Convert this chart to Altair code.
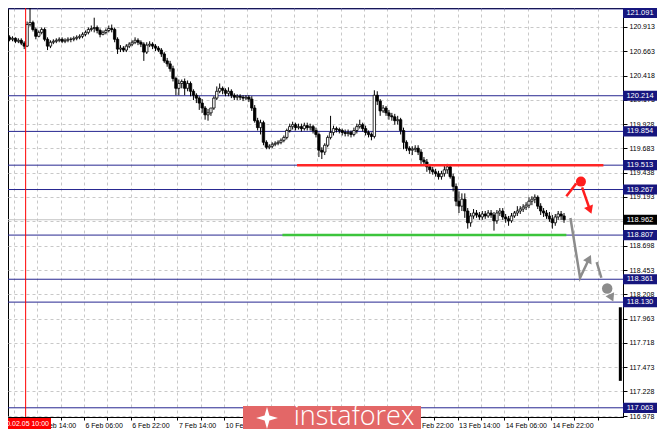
import json
import altair as alt
import pandas as pd

# ---------------- data (hourly bars) ----------------
first_open = 120.824
close = [
    120.804, 120.784, 120.794, 120.764, 120.774, 120.745, 120.715, 120.933,
    120.953, 120.883, 120.814, 120.854, 120.883, 120.784, 120.715, 120.754,
    120.764, 120.774, 120.784, 120.764, 120.774, 120.784, 120.784, 120.794,
    120.804, 120.814, 120.834, 120.854, 120.883, 120.893, 120.903, 120.873,
    120.834, 120.854, 120.873, 120.893, 120.883, 120.784, 120.685, 120.695,
    120.675, 120.715, 120.735, 120.754, 120.774, 120.754, 120.735, 120.655,
    120.725, 120.735, 120.715, 120.695, 120.675, 120.636, 120.566, 120.536,
    120.487, 120.388, 120.289, 120.338, 120.358, 120.289, 120.338, 120.259,
    120.219, 120.190, 120.140, 120.090, 120.021, 120.041, 120.090, 120.190,
    120.259, 120.289, 120.269, 120.239, 120.259, 120.219, 120.199, 120.209,
    120.199, 120.190, 120.199, 120.180, 120.090, 119.962, 119.892, 119.942,
    119.744, 119.694, 119.704, 119.724, 119.734, 119.744, 119.764, 119.793,
    119.863, 119.902, 119.922, 119.892, 119.902, 119.882, 119.912, 119.892,
    119.902, 119.863, 119.823, 119.664, 119.645, 119.714, 119.793, 119.843,
    119.882, 119.873, 119.863, 119.843, 119.833, 119.843, 119.823, 119.863,
    119.902, 119.922, 119.882, 119.843, 119.823, 119.803, 120.219, 120.160,
    120.061, 120.090, 120.041, 120.011, 120.001, 119.962, 119.972, 119.863,
    119.744, 119.684, 119.664, 119.674, 119.684, 119.645, 119.565, 119.545,
    119.496, 119.466, 119.446, 119.427, 119.397, 119.427, 119.466, 119.496,
    119.397, 119.298, 119.149, 119.099, 119.169, 119.050, 118.931, 119.000,
    119.030, 119.010, 118.990, 119.020, 119.000, 119.030, 119.010, 118.951,
    119.030, 119.050, 118.990, 118.971, 118.951, 119.000, 119.030, 119.050,
    119.070, 119.090, 119.109, 119.149, 119.169, 119.189, 119.099, 119.050,
    119.030, 119.000, 118.971, 118.931, 118.990, 119.020, 119.000, 118.962,
]
high = [
    120.844, 120.824, 120.814, 120.804, 120.794, 120.794, 120.764, 120.963,
    121.121, 120.972, 120.903, 120.873, 120.903, 120.903, 120.804, 120.774,
    120.784, 120.794, 120.804, 120.804, 120.794, 120.804, 120.804, 120.814,
    120.824, 120.834, 120.854, 120.873, 120.903, 120.923, 121.002, 120.923,
    120.893, 120.873, 120.893, 120.923, 120.933, 120.903, 120.804, 120.725,
    120.715, 120.735, 120.754, 120.774, 120.804, 120.794, 120.774, 120.754,
    120.754, 120.764, 120.754, 120.735, 120.715, 120.695, 120.655, 120.596,
    120.566, 120.517, 120.407, 120.378, 120.378, 120.388, 120.368, 120.358,
    120.279, 120.239, 120.209, 120.180, 120.110, 120.081, 120.090, 120.209,
    120.308, 120.338, 120.308, 120.289, 120.299, 120.279, 120.239, 120.229,
    120.229, 120.219, 120.219, 120.219, 120.209, 120.120, 119.991, 119.972,
    119.962, 119.764, 119.724, 119.744, 119.754, 119.764, 119.783, 119.813,
    119.882, 119.932, 119.952, 119.942, 119.932, 119.932, 119.942, 119.942,
    119.932, 119.922, 119.892, 119.843, 119.694, 119.734, 119.813, 120.011,
    119.912, 119.902, 119.892, 119.882, 119.873, 119.873, 119.863, 119.892,
    119.932, 119.972, 119.942, 119.912, 119.863, 119.843, 120.269, 120.259,
    120.180, 120.120, 120.110, 120.071, 120.041, 120.031, 120.011, 119.991,
    119.892, 119.764, 119.704, 119.704, 119.714, 119.714, 119.674, 119.595,
    119.575, 119.526, 119.496, 119.476, 119.456, 119.456, 119.506, 119.526,
    119.516, 119.427, 119.328, 119.248, 119.228, 119.228, 119.080, 119.030,
    119.070, 119.060, 119.040, 119.050, 119.050, 119.060, 119.060, 119.040,
    119.060, 119.080, 119.080, 119.020, 119.000, 119.030, 119.050, 119.099,
    119.099, 119.119, 119.139, 119.189, 119.199, 119.218, 119.208, 119.129,
    119.080, 119.060, 119.040, 119.010, 119.020, 119.050, 119.050, 119.030,
]
low = [
    120.784, 120.764, 120.764, 120.745, 120.745, 120.725, 120.685, 120.705,
    120.913, 120.863, 120.784, 120.804, 120.834, 120.764, 120.675, 120.695,
    120.735, 120.745, 120.754, 120.745, 120.745, 120.754, 120.754, 120.764,
    120.774, 120.784, 120.794, 120.814, 120.834, 120.863, 120.854, 120.844,
    120.804, 120.824, 120.834, 120.854, 120.854, 120.754, 120.636, 120.655,
    120.655, 120.655, 120.695, 120.715, 120.735, 120.725, 120.705, 120.566,
    120.636, 120.705, 120.685, 120.665, 120.655, 120.606, 120.546, 120.507,
    120.457, 120.358, 120.219, 120.219, 120.289, 120.219, 120.259, 120.209,
    120.170, 120.140, 120.071, 120.041, 119.972, 119.962, 120.011, 120.071,
    120.170, 120.239, 120.229, 120.209, 120.209, 120.190, 120.170, 120.170,
    120.170, 120.160, 120.170, 120.150, 120.061, 119.942, 119.863, 119.823,
    119.714, 119.674, 119.674, 119.684, 119.704, 119.714, 119.724, 119.744,
    119.773, 119.843, 119.873, 119.863, 119.873, 119.853, 119.863, 119.863,
    119.863, 119.833, 119.793, 119.595, 119.575, 119.615, 119.694, 119.773,
    119.813, 119.843, 119.833, 119.813, 119.803, 119.803, 119.793, 119.803,
    119.833, 119.882, 119.853, 119.813, 119.793, 119.764, 119.783, 120.120,
    120.011, 120.041, 120.011, 119.972, 119.962, 119.922, 119.922, 119.823,
    119.674, 119.655, 119.625, 119.615, 119.645, 119.615, 119.526, 119.516,
    119.446, 119.427, 119.417, 119.397, 119.367, 119.367, 119.397, 119.427,
    119.377, 119.248, 119.099, 119.030, 119.050, 118.981, 118.872, 118.891,
    118.971, 118.981, 118.961, 118.961, 118.971, 118.981, 118.981, 118.852,
    118.921, 119.000, 118.961, 118.931, 118.901, 118.931, 118.981, 119.000,
    119.020, 119.040, 119.060, 119.080, 119.109, 119.129, 119.070, 119.010,
    118.990, 118.971, 118.941, 118.872, 118.901, 118.961, 118.961, 118.931,
]

levels = [121.091, 120.214, 119.854, 119.513, 119.267, 118.807, 118.361, 118.130, 117.063]
last_price = 118.962

price_ticks = [120.913, 120.663, 120.418, 120.173, 119.928, 119.683, 119.438, 119.193,
               118.948, 118.698, 118.453, 118.208, 117.963, 117.718, 117.473, 117.228, 116.978]
hidden_price_ticks = [118.948]          # covered by the last-price box
time_labels = ["5 Feb 14:00", "6 Feb 06:00", "6 Feb 22:00", "7 Feb 14:00", "10 Feb 06:00",
               "10 Feb 22:00", "11 Feb 14:00", "12 Feb 06:00", "12 Feb 22:00", "13 Feb 14:00",
               "14 Feb 06:00", "14 Feb 22:00"]
hidden_time_labels = ["10 Feb 22:00", "11 Feb 14:00", "12 Feb 06:00"]   # under the watermark
grid_bars = [2.5, 10.5, 18.5, 26.5, 34.5, 42.5, 50.5, 58.5, 66.5, 74.5, 82.5, 90.5, 98.5,
             106.5, 114.5, 122.5, 130.5, 138.5, 146.5, 154.5, 162.5, 170.5, 178.5, 186.5,
             194.5, 202.5]

event_bar = 6.5
event_label = "2020.02.05 10:00"

res_level, res_from, res_to = 119.513, 99.5, 204.5
sup_level, sup_from, sup_to = 118.807, 94.5, 191.8

red_seg = ["r1", "r1", "r2", "r2"]
red_x = [191.8, 195.2, 197.2, 199.9]
red_y = [119.198, 119.327, 119.288, 119.060]
grey_seg = ["g1", "g1", "g1", "g2", "g2"]
grey_x = [193.2, 196.5, 199.6, 202.2, 203.8]
grey_y = [118.980, 118.376, 118.568, 118.534, 118.376]

red_head = {"x": [199.9], "y": [119.060], "a": [159]}
grey_head = {"x": [199.6, 207.3], "y": [118.568, 118.173], "a": [26, 155]}
red_dot = {"x": [196.8], "y": [119.347]}
grey_dot = {"x": [205.8], "y": [118.267]}

scale_bar_bar = 210.3
scale_bar_price = [118.078, 117.335]
watermark = "instaforex"

# ---------------- layout / scales ----------------
W, H = 615, 409
FONT = "Liberation Sans"
FS = 7
NAVY = "#262690"
RED = "#ff1e1e"
GREY = "#8c8c8c"
Y_TOP = 121.10

opens = [first_open] + close[:-1]
candles = pd.DataFrame({"i": list(range(len(close))), "open": opens, "high": high,
                        "low": low, "close": close})

xs = alt.Scale(domain=[2.167, 209.5], nice=False, zero=False)
ys = alt.Scale(domain=[116.97, Y_TOP], nice=False, zero=False)

shown_time = [("" if t in hidden_time_labels else t) for t in time_labels]
labels_js = json.dumps(shown_time)
x_label_expr = (f"(round((datum.value - 2.5) / 8) % 2 == 1) ? "
                f"{labels_js}[(round((datum.value - 2.5) / 8) - 1) / 2] : ''")
hidden_js = json.dumps(hidden_price_ticks)
y_label_expr = f"indexof({hidden_js}, datum.value) >= 0 ? '' : format(datum.value, '.3f')"

x_axis = alt.Axis(values=grid_bars, labelExpr=x_label_expr, grid=True, title=None,
                  labelAlign="left", labelBaseline="top", labelPadding=1, labelOffset=1,
                  tickSize=3, labelFlush=False, labelOverlap=False)
y_axis = alt.Axis(orient="right", values=price_ticks, labelExpr=y_label_expr, grid=True,
                  title=None, tickSize=4, labelPadding=2, labelOverlap=False, labelFlush=False)


def X(field):
    return alt.X(f"{field}:Q", scale=xs, axis=x_axis)


def Y(field):
    return alt.Y(f"{field}:Q", scale=ys, axis=y_axis)


cur_line = alt.Chart(pd.DataFrame({"p": [last_price]})).mark_rule(
    color="#c4c4c4", strokeWidth=1).encode(y=Y("p"))

level_lines = alt.Chart(pd.DataFrame({"p": levels})).mark_rule(
    color=NAVY, strokeWidth=1).encode(y=Y("p"))

wicks = alt.Chart(candles).mark_rule(color="black", strokeWidth=1, clip=True).encode(
    x=X("i"), y=Y("low"), y2="high:Q")
bodies = alt.Chart(candles).mark_bar(size=2.4, stroke="black", strokeWidth=0.8,
                                     clip=True).encode(
    x=X("i"), y=Y("open"), y2="close:Q",
    fill=alt.condition("datum.close >= datum.open", alt.value("white"), alt.value("black")),
)

event_line = alt.Chart(pd.DataFrame({"i": [event_bar]})).mark_rule(
    color="#ff0000", strokeWidth=1).encode(x=X("i"))

res_line = alt.Chart(pd.DataFrame({"x": [res_from], "x2": [res_to], "p": [res_level]})
                     ).mark_rule(color="#ff2626", strokeWidth=2.5).encode(
    x=X("x"), x2="x2:Q", y=Y("p"))
sup_line = alt.Chart(pd.DataFrame({"x": [sup_from], "x2": [sup_to], "p": [sup_level]})
                     ).mark_rule(color="#3cc43c", strokeWidth=2.5).encode(
    x=X("x"), x2="x2:Q", y=Y("p"))

red_df = pd.DataFrame({"seg": red_seg, "x": red_x, "y": red_y, "n": range(len(red_x))})
grey_df = pd.DataFrame({"seg": grey_seg, "x": grey_x, "y": grey_y, "n": range(len(grey_x))})
red_lines = alt.Chart(red_df).mark_line(color=RED, strokeWidth=2.5).encode(
    x=X("x"), y=Y("y"), detail="seg:N", order="n:Q")
grey_lines = alt.Chart(grey_df).mark_line(color=GREY, strokeWidth=2.5).encode(
    x=X("x"), y=Y("y"), detail="seg:N", order="n:Q")
red_heads = alt.Chart(pd.DataFrame(red_head)).mark_point(
    shape="triangle-up", filled=True, size=90, opacity=1, color=RED).encode(
    x=X("x"), y=Y("y"), angle=alt.Angle("a:Q", scale=None))
grey_heads = alt.Chart(pd.DataFrame(grey_head)).mark_point(
    shape="triangle-up", filled=True, size=90, opacity=1, color=GREY).encode(
    x=X("x"), y=Y("y"), angle=alt.Angle("a:Q", scale=None))
red_dots = alt.Chart(pd.DataFrame(red_dot)).mark_point(
    shape="circle", filled=True, size=100, opacity=1, color=RED).encode(x=X("x"), y=Y("y"))
grey_dots = alt.Chart(pd.DataFrame(grey_dot)).mark_point(
    shape="circle", filled=True, size=110, opacity=1, color=GREY).encode(x=X("x"), y=Y("y"))

scale_bar = alt.Chart(pd.DataFrame({"i": [scale_bar_bar], "p1": [scale_bar_price[0]],
                                    "p2": [scale_bar_price[1]]})).mark_rule(
    color="black", strokeWidth=3).encode(x=X("i"), y=Y("p1"), y2="p2:Q")

# price tags on the right-hand scale (kept inside the top edge, like the terminal does)
box_shape = "M-1,-0.3L1,-0.3L1,0.3L-1,0.3Z"
lvl_df = pd.DataFrame({"p": levels})
last_df = pd.DataFrame({"p": [last_price]})
tag_pos = f"min(datum.p, {Y_TOP} - 0.05)"
lvl_boxes = alt.Chart(lvl_df).transform_calculate(pd_=tag_pos).mark_point(
    shape=box_shape, filled=True, size=34 * 34, opacity=1, strokeWidth=0,
    color="#16167e").encode(x=alt.value(W + 17), y=Y("pd_"))
last_box = alt.Chart(last_df).transform_calculate(pd_=tag_pos).mark_point(
    shape=box_shape, filled=True, size=34 * 34, opacity=1, strokeWidth=0,
    color="#000000").encode(x=alt.value(W + 17), y=Y("pd_"))
lab_text = alt.Chart(pd.DataFrame({"p": levels + [last_price]})).transform_calculate(
    pd_=tag_pos).mark_text(color="white", fontSize=7.5, font=FONT, align="center",
                           baseline="middle").encode(
    x=alt.value(W + 17), y=Y("pd_"), text=alt.Text("p:Q", format=".3f"))

ev_box = alt.Chart(pd.DataFrame({"t": [event_label]})).mark_rect(color="#ff0000").encode(
    x=alt.value(-20), x2=alt.value(43), y=alt.value(H + 1), y2=alt.value(H + 12))
ev_text = alt.Chart(pd.DataFrame({"t": [event_label]})).mark_text(
    color="white", fontSize=FS, font=FONT, align="right", baseline="middle").encode(
    x=alt.value(41), y=alt.value(H + 6.5), text="t:N")

wm_box = alt.Chart(pd.DataFrame({"t": [watermark]})).mark_rect(color="#e36767").encode(
    x=alt.value(235), x2=alt.value(413), y=alt.value(398), y2=alt.value(H + 20))
wm_text = alt.Chart(pd.DataFrame({"t": [watermark]})).mark_text(
    color="white", fontSize=27, font="Open Sans", fontWeight=300, align="center",
    baseline="alphabetic").encode(x=alt.value(346), y=alt.value(417), text="t:N")
wm_logo = alt.Chart(pd.DataFrame({"t": ["logo"]})).mark_point(
    shape="M0,-1L0.22,-0.22L1,0L0.22,0.22L0,1L-0.22,0.22L-1,0L-0.22,-0.22Z",
    filled=True, color="white", size=480, opacity=1).encode(
    x=alt.value(259), y=alt.value(410))

chart = alt.layer(
    cur_line, level_lines, wicks, bodies, event_line, res_line, sup_line,
    red_lines, grey_lines, red_heads, grey_heads, red_dots, grey_dots, scale_bar,
    lvl_boxes, last_box, lab_text, wm_box, wm_logo, wm_text, ev_box, ev_text,
).properties(
    width=W, height=H,
    autosize=alt.AutoSizeParams(type="none"),
    padding={"left": 0, "top": 0, "right": 34, "bottom": 12},
).configure_view(
    stroke="black", strokeWidth=1,
).configure_axis(
    labelFont=FONT, labelFontSize=FS, labelColor="black",
    domainColor="black", tickColor="black",
    gridColor="#c8c8c8", gridDash=[3, 3], gridWidth=1,
)

chart.save("out.html", embed_options={"renderer": "svg", "actions": False})
